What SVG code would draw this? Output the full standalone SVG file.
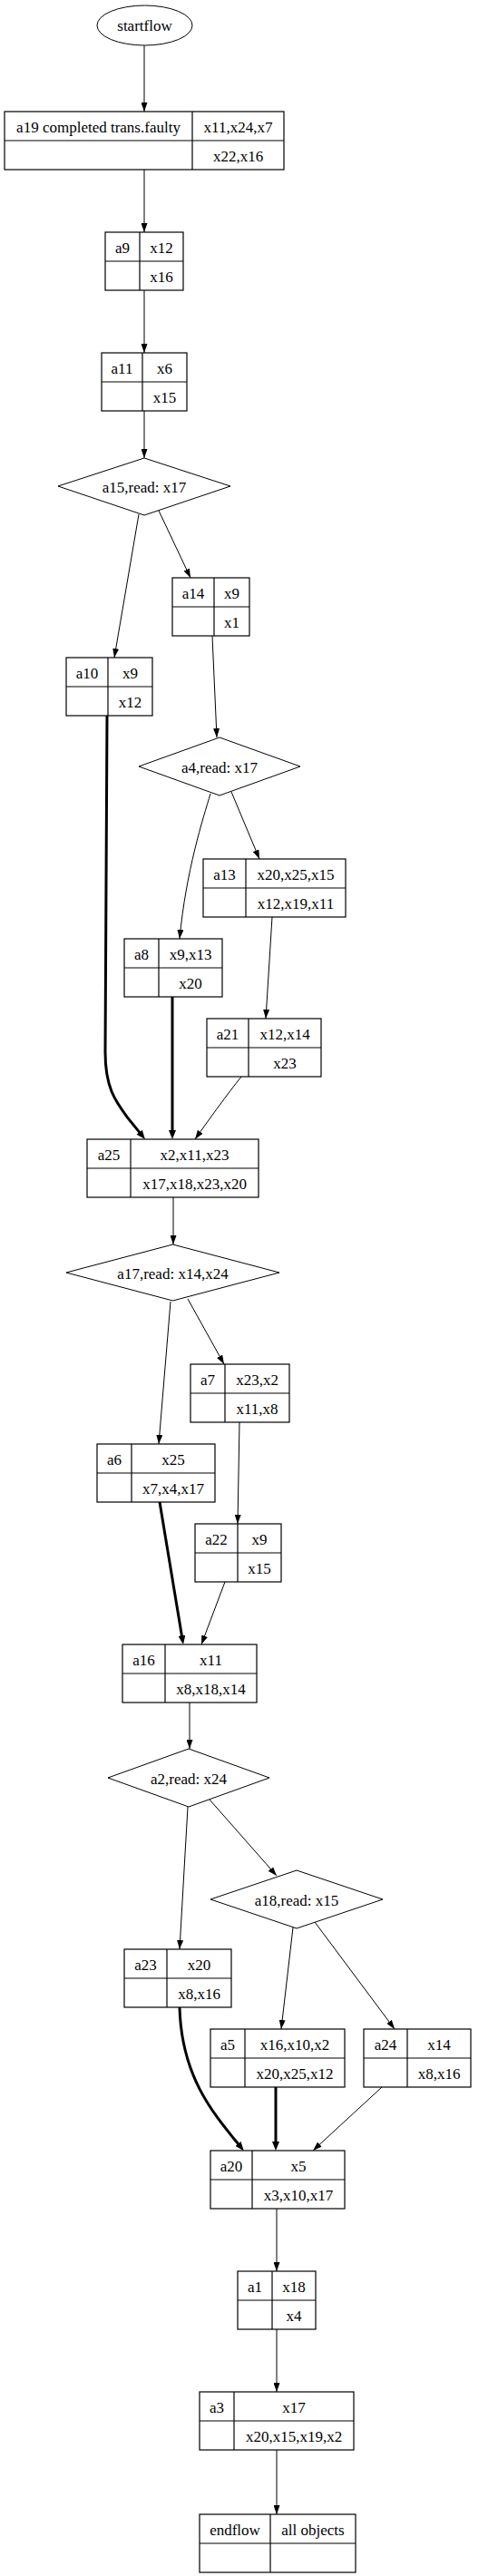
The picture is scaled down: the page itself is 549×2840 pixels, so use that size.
<svg xmlns="http://www.w3.org/2000/svg" width="549" height="2840" viewBox="0 0 549 2840">
<style>
text{font-family:"Liberation Serif","Times New Roman",serif;font-size:17px;fill:#000;text-anchor:middle}
.box{fill:none;stroke:#000;stroke-width:1.2}
.dv{stroke:#000;stroke-width:1.2}
.shape{fill:none;stroke:#000;stroke-width:1}
.e{fill:none;stroke:#000;stroke-width:1;marker-end:url(#ah)}
.t{fill:none;stroke:#000;stroke-width:3;marker-end:url(#aht)}
</style>
<defs>
<marker id="ah" viewBox="0 0 10 7" refX="10" refY="3.5" markerWidth="10" markerHeight="7" markerUnits="userSpaceOnUse" orient="auto"><path d="M0,0L10,3.5L0,7z" fill="#000"/></marker>
<marker id="aht" viewBox="0 0 10 8" refX="5" refY="4" markerWidth="10" markerHeight="8" markerUnits="userSpaceOnUse" orient="auto"><path d="M0,0L10,4L0,8z" fill="#000"/></marker>
</defs>
<rect width="549" height="2840" fill="#fff"/>
<g id="connectors">
<path class="e" d="M159,50L159,123"/>
<path class="e" d="M159,187L159,256"/>
<path class="e" d="M159,320L159,389"/>
<path class="e" d="M159,453L159,505"/>
<path class="e" d="M153,567L126,725"/>
<path class="e" d="M175,563L210,637"/>
<path class="e" d="M234,701L239,813"/>
<path class="e" d="M232,875C224,902 205,960 198,1035"/>
<path class="e" d="M255,873L286,947"/>
<path class="t" d="M118,789L116,1160C116,1200 128,1215 141,1232.6 L156.8,1252.1"/>
<path class="t" d="M190,1099L190,1251"/>
<path class="e" d="M300,1011L293,1123"/>
<path class="e" d="M266,1187C250,1207 232,1232 215,1256"/>
<path class="e" d="M191,1320L191,1372"/>
<path class="e" d="M188,1435L175,1592"/>
<path class="e" d="M207,1432L247,1504"/>
<path class="e" d="M264,1568L262,1680"/>
<path class="t" d="M176,1656L201.2,1808.1"/>
<path class="e" d="M248,1744L222,1813"/>
<path class="e" d="M209,1877L209,1928"/>
<path class="e" d="M207,1992L198,2149"/>
<path class="e" d="M231,1984L305,2068"/>
<path class="e" d="M323,2125L310,2237"/>
<path class="e" d="M347,2119L435,2237"/>
<path class="t" d="M198,2213C200,2290 235,2330 265.6,2367.3"/>
<path class="t" d="M304,2301L304,2366"/>
<path class="e" d="M421,2301L345,2371"/>
<path class="e" d="M305,2435L305,2504"/>
<path class="e" d="M305,2568L305,2637"/>
<path class="e" d="M305,2701L305,2772"/>
</g>
<g id="startflow"><ellipse class="shape" cx="159.5" cy="28" rx="52.5" ry="22"/><text x="159.5" y="34">startflow</text></g>
<g id="a19"><rect class="box" x="5" y="123" width="308" height="64"/><line class="dv" x1="212" y1="123" x2="212" y2="187"/><line class="dv" x1="5" y1="155" x2="313" y2="155"/><text x="108.5" y="146">a19 completed trans.faulty</text><text x="262.5" y="146">x11,x24,x7</text><text x="262.5" y="178">x22,x16</text></g>
<g id="a9"><rect class="box" x="116" y="256" width="86" height="64"/><line class="dv" x1="154" y1="256" x2="154" y2="320"/><line class="dv" x1="116" y1="288" x2="202" y2="288"/><text x="135" y="279">a9</text><text x="178" y="279">x12</text><text x="178" y="311">x16</text></g>
<g id="a11"><rect class="box" x="112" y="389" width="94" height="64"/><line class="dv" x1="157" y1="389" x2="157" y2="453"/><line class="dv" x1="112" y1="421" x2="206" y2="421"/><text x="134.5" y="412">a11</text><text x="181.5" y="412">x6</text><text x="181.5" y="444">x15</text></g>
<g id="a15"><polygon class="shape" points="64,536 159,505 254,536 159,568"/><text x="159" y="543">a15,read: x17</text></g>
<g id="a14"><rect class="box" x="190" y="637" width="85" height="64"/><line class="dv" x1="236" y1="637" x2="236" y2="701"/><line class="dv" x1="190" y1="669" x2="275" y2="669"/><text x="213" y="660">a14</text><text x="255.5" y="660">x9</text><text x="255.5" y="692">x1</text></g>
<g id="a10"><rect class="box" x="73" y="725" width="95" height="64"/><line class="dv" x1="119" y1="725" x2="119" y2="789"/><line class="dv" x1="73" y1="757" x2="168" y2="757"/><text x="96" y="748">a10</text><text x="143.5" y="748">x9</text><text x="143.5" y="780">x12</text></g>
<g id="a4"><polygon class="shape" points="153,845 242,813 331,845 242,877"/><text x="242" y="852">a4,read: x17</text></g>
<g id="a13"><rect class="box" x="224" y="947" width="157" height="64"/><line class="dv" x1="271" y1="947" x2="271" y2="1011"/><line class="dv" x1="224" y1="979" x2="381" y2="979"/><text x="247.5" y="970">a13</text><text x="326" y="970">x20,x25,x15</text><text x="326" y="1002">x12,x19,x11</text></g>
<g id="a8"><rect class="box" x="137" y="1035" width="108" height="64"/><line class="dv" x1="175" y1="1035" x2="175" y2="1099"/><line class="dv" x1="137" y1="1067" x2="245" y2="1067"/><text x="156" y="1058">a8</text><text x="210" y="1058">x9,x13</text><text x="210" y="1090">x20</text></g>
<g id="a21"><rect class="box" x="228" y="1123" width="126" height="64"/><line class="dv" x1="274" y1="1123" x2="274" y2="1187"/><line class="dv" x1="228" y1="1155" x2="354" y2="1155"/><text x="251" y="1146">a21</text><text x="314" y="1146">x12,x14</text><text x="314" y="1178">x23</text></g>
<g id="a25"><rect class="box" x="96" y="1256" width="189" height="64"/><line class="dv" x1="144" y1="1256" x2="144" y2="1320"/><line class="dv" x1="96" y1="1288" x2="285" y2="1288"/><text x="120" y="1279">a25</text><text x="214.5" y="1279">x2,x11,x23</text><text x="214.5" y="1311">x17,x18,x23,x20</text></g>
<g id="a17"><polygon class="shape" points="73,1403 190.5,1372 308,1403 190.5,1434"/><text x="190.5" y="1410">a17,read: x14,x24</text></g>
<g id="a7"><rect class="box" x="210" y="1504" width="109" height="64"/><line class="dv" x1="248" y1="1504" x2="248" y2="1568"/><line class="dv" x1="210" y1="1536" x2="319" y2="1536"/><text x="229" y="1527">a7</text><text x="283.5" y="1527">x23,x2</text><text x="283.5" y="1559">x11,x8</text></g>
<g id="a6"><rect class="box" x="107" y="1592" width="130" height="64"/><line class="dv" x1="145" y1="1592" x2="145" y2="1656"/><line class="dv" x1="107" y1="1624" x2="237" y2="1624"/><text x="126" y="1615">a6</text><text x="191" y="1615">x25</text><text x="191" y="1647">x7,x4,x17</text></g>
<g id="a22"><rect class="box" x="215" y="1680" width="95" height="64"/><line class="dv" x1="262" y1="1680" x2="262" y2="1744"/><line class="dv" x1="215" y1="1712" x2="310" y2="1712"/><text x="238.5" y="1703">a22</text><text x="286" y="1703">x9</text><text x="286" y="1735">x15</text></g>
<g id="a16"><rect class="box" x="135" y="1813" width="148" height="64"/><line class="dv" x1="182" y1="1813" x2="182" y2="1877"/><line class="dv" x1="135" y1="1845" x2="283" y2="1845"/><text x="158.5" y="1836">a16</text><text x="232.5" y="1836">x11</text><text x="232.5" y="1868">x8,x18,x14</text></g>
<g id="a2"><polygon class="shape" points="119,1960 208,1928 297,1960 208,1992"/><text x="208" y="1967">a2,read: x24</text></g>
<g id="a18"><polygon class="shape" points="232,2094 327,2062 422,2094 327,2126"/><text x="327" y="2101">a18,read: x15</text></g>
<g id="a23"><rect class="box" x="137" y="2149" width="118" height="64"/><line class="dv" x1="184" y1="2149" x2="184" y2="2213"/><line class="dv" x1="137" y1="2181" x2="255" y2="2181"/><text x="160.5" y="2172">a23</text><text x="219.5" y="2172">x20</text><text x="219.5" y="2204">x8,x16</text></g>
<g id="a5"><rect class="box" x="232" y="2237" width="148" height="64"/><line class="dv" x1="270" y1="2237" x2="270" y2="2301"/><line class="dv" x1="232" y1="2269" x2="380" y2="2269"/><text x="251" y="2260">a5</text><text x="325" y="2260">x16,x10,x2</text><text x="325" y="2292">x20,x25,x12</text></g>
<g id="a24"><rect class="box" x="401" y="2237" width="118" height="64"/><line class="dv" x1="449" y1="2237" x2="449" y2="2301"/><line class="dv" x1="401" y1="2269" x2="519" y2="2269"/><text x="425" y="2260">a24</text><text x="484" y="2260">x14</text><text x="484" y="2292">x8,x16</text></g>
<g id="a20"><rect class="box" x="232" y="2371" width="148" height="64"/><line class="dv" x1="278" y1="2371" x2="278" y2="2435"/><line class="dv" x1="232" y1="2403" x2="380" y2="2403"/><text x="255" y="2394">a20</text><text x="329" y="2394">x5</text><text x="329" y="2426">x3,x10,x17</text></g>
<g id="a1"><rect class="box" x="262" y="2504" width="86" height="64"/><line class="dv" x1="300" y1="2504" x2="300" y2="2568"/><line class="dv" x1="262" y1="2536" x2="348" y2="2536"/><text x="281" y="2527">a1</text><text x="324" y="2527">x18</text><text x="324" y="2559">x4</text></g>
<g id="a3"><rect class="box" x="220" y="2637" width="170" height="64"/><line class="dv" x1="258" y1="2637" x2="258" y2="2701"/><line class="dv" x1="220" y1="2669" x2="390" y2="2669"/><text x="239" y="2660">a3</text><text x="324" y="2660">x17</text><text x="324" y="2692">x20,x15,x19,x2</text></g>
<g id="endflow"><rect class="box" x="220" y="2772" width="172" height="64"/><line class="dv" x1="298" y1="2772" x2="298" y2="2836"/><line class="dv" x1="220" y1="2804" x2="392" y2="2804"/><text x="259" y="2795">endflow</text><text x="345" y="2795">all objects</text></g>
</svg>
